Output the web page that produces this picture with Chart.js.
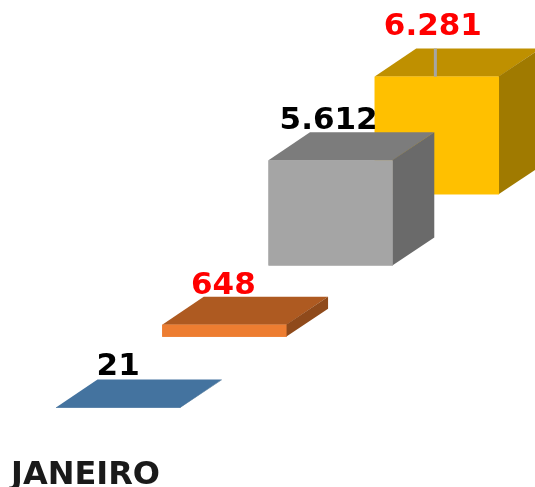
<!DOCTYPE html>
<html>
<head>
<meta charset="utf-8">
<title>Janeiro</title>
<script src="https://cdn.jsdelivr.net/npm/chart.js@4"></script>
<style>
  html, body { margin: 0; padding: 0; background: #fff; }
  canvas { display: block; }
</style>
</head>
<body>
<canvas id="barChart" width="535" height="487"></canvas>
<script>
// Data
var categories = ['JANEIRO'];
var seriesNames = ['A', 'B', 'C', 'D'];
var seriesValues = [21, 648, 5612, 6281];

// Face colours of each box
var frontColors = ['#41719C', '#ED7D31', '#A5A5A5', '#FFC000'];
var topColors = ['#44739F', '#AE5A21', '#7C7C7C', '#BF9000'];
var sideColors = ['#3A668C', '#8F4A1B', '#6A6A6A', '#A07A00'];
var labelColors = ['#000000', '#FF0000', '#000000', '#FF0000'];

// Look of the 3D box
var depthX = 41.5;
var depthY = 28;
var axisSpan = 20700;
var axisMins = [0, -3800, -7600, -11400];
var labelGaps = [41, 39, 39, 50];
var labelNudge = [0, -1, -2, -4];
var labelFont = 'bold 31px "DejaVu Sans"';

function formatValue(v) {
  return String(v).replace(/\B(?=(\d{3})+$)/g, '.');
}

function poly(ctx, pts, color) {
  ctx.fillStyle = color;
  ctx.beginPath();
  ctx.moveTo(pts[0][0], pts[0][1]);
  for (var i = 1; i < pts.length; i++) ctx.lineTo(pts[i][0], pts[i][1]);
  ctx.closePath();
  ctx.fill();
}

// Draws top and side faces right after each bar
var boxPlugin = {
  id: 'box3d',
  afterDatasetDraw: function(chart, args) {
    var i = args.index;
    var bar = chart.getDatasetMeta(i).data[0];
    var ctx = chart.ctx;
    var left = bar.x - bar.width / 2;
    var right = bar.x + bar.width / 2;
    var top = bar.y;
    var bottom = bar.base;
    ctx.save();
    poly(ctx, [[left, top], [right, top], [right + depthX, top - depthY], [left + depthX, top - depthY]], topColors[i]);
    // a bit under the front face so no seam shows through
    poly(ctx, [[right - 0.5, top], [right + depthX, top - depthY], [right + depthX, bottom - depthY], [right - 0.5, bottom]], sideColors[i]);
    ctx.fillStyle = frontColors[i];
    ctx.fillRect(left, top, bar.width, bottom - top);
    ctx.restore();
  },
  afterDatasetsDraw: function(chart) {
    var ctx = chart.ctx;
    ctx.save();
    seriesValues.forEach(function(v, i) {
      var bar = chart.getDatasetMeta(i).data[0];
      // leader line only where the label was pulled away from the box
      if (labelGaps[i] > 45) {
        ctx.fillStyle = '#A5A5A5';
        ctx.fillRect(bar.x - 3, bar.y - depthY, 3, depthY);
      }
      ctx.font = labelFont;
      ctx.fillStyle = labelColors[i];
      ctx.textAlign = 'center';
      ctx.textBaseline = 'middle';
      ctx.fillText(formatValue(v), bar.x + labelNudge[i], bar.y - labelGaps[i]);
    });
    ctx.restore();
  }
};

var scales = {
  x: {
    grid: { display: false, drawTicks: false },
    border: { display: false },
    ticks: {
      color: '#1a1a1a',
      font: { family: 'DejaVu Sans', size: 32, weight: 'bold' },
      padding: 48,
      labelOffset: -192,
      maxRotation: 0,
      autoSkip: false
    },
    afterFit: function(scale) { scale.height = 79; }
  }
};
axisMins.forEach(function(min, i) {
  scales['y' + i] = { display: false, min: min, max: min + axisSpan };
});

var ctx = document.getElementById('barChart').getContext('2d');
new Chart(ctx, {
  type: 'bar',
  plugins: [boxPlugin],
  data: {
    labels: categories,
    datasets: seriesValues.map(function(v, i) {
      return {
        label: seriesNames[i],
        data: [v],
        yAxisID: 'y' + i,
        backgroundColor: frontColors[i],
        borderWidth: 0,
        clip: false,
        categoryPercentage: 1,
        barPercentage: 1.17
      };
    })
  },
  options: {
    responsive: false,
    animation: false,
    layout: { padding: { left: 65, right: 45, top: 20, bottom: 0 } },
    plugins: {
      legend: { display: false },
      title: { display: false },
      tooltip: { enabled: false }
    },
    scales: scales
  }
});
</script>
</body>
</html>
